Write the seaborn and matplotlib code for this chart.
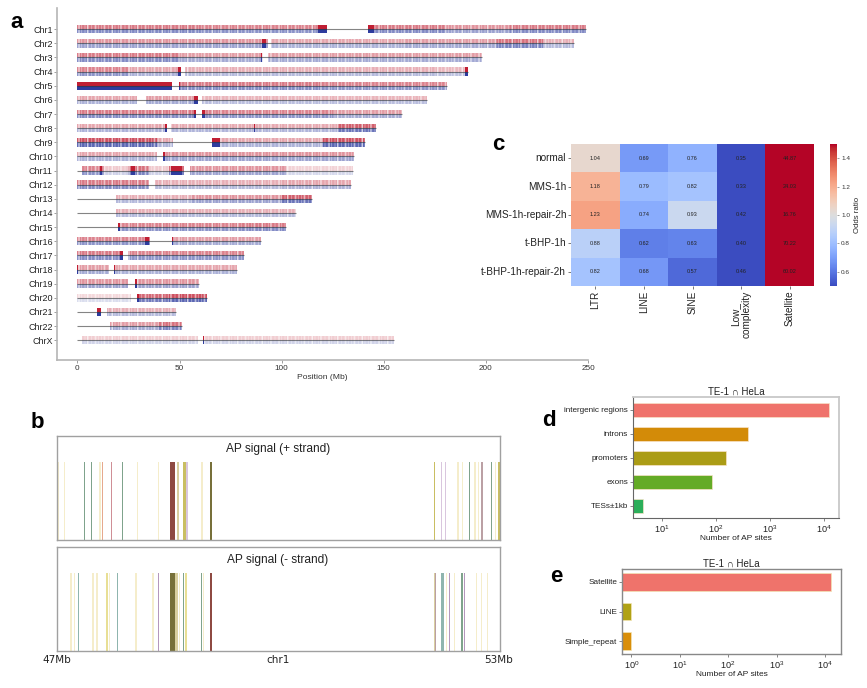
import numpy as np
import pandas as pd
import matplotlib
matplotlib.use("Agg")
import matplotlib.pyplot as plt
from matplotlib.colors import to_rgb
import seaborn as sns

# -------------------------------
# PANEL A DATA (Mb)
# -------------------------------
chr_names = ['Chr1', 'Chr2', 'Chr3', 'Chr4', 'Chr5', 'Chr6', 'Chr7', 'Chr8', 'Chr9', 'Chr10', 'Chr11', 'Chr12',
             'Chr13', 'Chr14', 'Chr15', 'Chr16', 'Chr17', 'Chr18', 'Chr19', 'Chr20', 'Chr21', 'Chr22', 'ChrX']
chr_lengths = [249, 243, 198, 191, 181, 171, 159, 146, 141, 135.5, 135, 134, 115, 107, 102, 90, 81.5, 78, 59.5, 63.5, 48.5, 51, 155]

# start, end, density
seg_chr1 = [(0, 60, .75), (60, 122, .7), (142.5, 180, .75), (180, 212, .6), (212, 249, .75)]
seg_chr2 = [(0, 93.5, .6), (95, 160, .5), (160, 205, .55), (205, 228, .8), (228, 243, .45)]
seg_chr3 = [(0, 50, .75), (50, 91, .55), (93.5, 198, .55)]
seg_chr4 = [(0, 25, .7), (25, 49.5, .5), (52.8, 175, .45), (175, 191, .4)]
seg_chr5 = [(0, 46.5, 1.0), (49.5, 120, .75), (120, 181, .7)]
seg_chr6 = [(0, 29, .5), (33.5, 58.5, .55), (61, 171, .42)]
seg_chr7 = [(0, 58, .75), (61, 125, .7), (125, 159, .55)]
seg_chr8 = [(0, 43.7, .5), (46, 127, .48), (127, 146, .9)]
seg_chr9 = [(0, 39, .98), (39, 47, .5), (66, 70, .9), (70, 120, .5), (120, 141, .98)]
seg_chr10 = [(0, 39, .5), (43, 135.5, .6)]
seg_chr11 = [(2, 13, .7), (13, 25, .3), (25, 35, .8), (35, 45, .3), (45, 52, .8), (55, 102, .6), (102, 135, .25)]
seg_chr12 = [(0, 35, .75), (38, 100, .45), (100, 134, .5)]
seg_chr13 = [(19, 56, .45), (56, 100, .6), (100, 115, .9)]
seg_chr14 = [(19, 80, .45), (80, 107, .45)]
seg_chr15 = [(20, 80, .7), (80, 102, .75)]
seg_chr16 = [(0, 35.5, .7), (46.5, 90, .55)]
seg_chr17 = [(0, 22.5, .75), (25, 81.5, .7)]
seg_chr18 = [(0, 15.5, .55), (18, 78, .5)]
seg_chr19 = [(0, 25, .6), (28, 59.5, .6)]
seg_chr20 = [(0, 26, .22), (29, 45, .85), (45, 63.5, .98)]
seg_chr21 = [(14.5, 48.5, .45)]
seg_chr22 = [(16, 40, .55), (40, 51, .8)]
seg_chrx = [(2, 59, .28), (62, 155, .28)]
chr_segments = [seg_chr1, seg_chr2, seg_chr3, seg_chr4, seg_chr5, seg_chr6, seg_chr7, seg_chr8, seg_chr9, seg_chr10,
                seg_chr11, seg_chr12, seg_chr13, seg_chr14, seg_chr15, seg_chr16, seg_chr17, seg_chr18, seg_chr19,
                seg_chr20, seg_chr21, seg_chr22, seg_chrx]

# strong peaks: start, end
hot_chr1 = [(118, 122), (142.5, 145.3)]
hot_chr2 = [(90.3, 92.5)]
hot_chr3 = [(90, 90.6)]
hot_chr4 = [(49.3, 50.5), (190, 191)]
hot_chr5 = [(49.5, 50)]
hot_chr6 = [(57, 59)]
hot_chr7 = [(57, 58), (61, 62.5)]
hot_chr8 = [(43, 44), (86.3, 87)]
hot_chr9 = [(66, 70)]
hot_chr10 = [(42, 43)]
hot_chr11 = [(11, 12), (26, 28), (46, 51)]
hot_chr12 = []
hot_chr13 = []
hot_chr14 = []
hot_chr15 = [(20, 21)]
hot_chr16 = [(33, 35), (46.5, 47)]
hot_chr17 = [(21, 22.5)]
hot_chr18 = [(0, .5), (18, 18.5)]
hot_chr19 = [(28, 29)]
hot_chr20 = [(29, 30)]
hot_chr21 = [(9.5, 11.5)]
hot_chr22 = []
hot_chrx = [(61.5, 62)]
chr_hot = [hot_chr1, hot_chr2, hot_chr3, hot_chr4, hot_chr5, hot_chr6, hot_chr7, hot_chr8, hot_chr9, hot_chr10,
           hot_chr11, hot_chr12, hot_chr13, hot_chr14, hot_chr15, hot_chr16, hot_chr17, hot_chr18, hot_chr19,
           hot_chr20, hot_chr21, hot_chr22, hot_chrx]

# -------------------------------
# PANEL B DATA (Mb)
# -------------------------------
ylt, ylw, olv, dol, grn, tea, lil, pur, sal, ros, bro, tan, mau = ('#F5EDCB', '#E8DF95', '#C9BE62', '#77703A', '#7FA38C',
    '#8FB5AE', '#D9C6DE', '#B597BC', '#E6A98D', '#CF8F96', '#8E4A42', '#D9CFA0', '#BBA0A4')
plus_pos = [47.014, 47.104, 47.375, 47.470, 47.578, 47.619, 47.740, 47.889, 48.093, 48.373, 48.562, 48.639, 48.725,
            48.761, 48.964, 49.081, 52.116, 52.206, 52.260, 52.432, 52.495, 52.590, 52.662, 52.712, 52.752, 52.888,
            52.937, 52.987]
plus_width = [.016, .016, .012, .012, .03, .012, .012, .012, .016, .016, .075, .04, .04, .018, .04, .03, .02, .012,
              .018, .016, .016, .012, .016, .016, .03, .012, .016, .016]
plus_color = [ylt, ylt, grn, grn, ylt, sal, ros, grn, ylt, ylt, bro, tan, olv, lil, ylt, dol, olv, lil, lil, ylt, ylt,
              grn, ylt, ylt, mau, grn, ylt, olv]
minus_pos = [47.190, 47.239, 47.293, 47.488, 47.542, 47.677, 47.713, 47.817, 48.070, 48.300, 48.377, 48.562, 48.616,
             48.657, 48.711, 48.747, 48.955, 48.987, 49.081, 52.107, 52.129, 52.219, 52.278, 52.319, 52.387, 52.490,
             52.522, 52.684, 52.752, 52.829]
minus_width = [.016, .016, .012, .016, .016, .016, .016, .016, .016, .016, .012, .07, .035, .02, .022, .04, .018,
               .016, .03, .012, .012, .04, .016, .012, .016, .025, .012, .016, .016, .016]
minus_color = [ylt, ylt, tea, ylt, ylt, ylw, ylt, tea, ylt, ylt, pur, dol, tan, ylt, grn, ylw, grn, ylt, bro, tan, mau,
               tea, ylt, pur, ylt, grn, pur, ylt, ylt, ylt]

# -------------------------------
# PANEL C DATA
# -------------------------------
conditions = ['normal', 'MMS-1h', 'MMS-1h-repair-2h', 't-BHP-1h', 't-BHP-1h-repair-2h']
repeat_classes = ['LTR', 'LINE', 'SINE', 'Low_\ncomplexity', 'Satellite']
ltr_odds = [1.04, 1.18, 1.23, 0.88, 0.82]
line_odds = [0.69, 0.79, 0.74, 0.62, 0.68]
sine_odds = [0.76, 0.82, 0.93, 0.63, 0.57]
low_odds = [0.35, 0.33, 0.42, 0.40, 0.46]
sat_odds = [44.87, 24.03, 16.76, 70.22, 60.02]

# -------------------------------
# PANEL D / E DATA
# -------------------------------
region_names = ['intergenic regions', 'introns', 'promoters', 'exons', 'TESs±1kb']
region_counts = [12400, 390, 150, 85, 4.5]
region_colors = ['#EF736B', '#D38B08', '#AB9C15', '#64AB26', '#2BAE5A']
repeat_names = ['Satellite', 'LINE', 'Simple_repeat']
repeat_counts = [13300, 1, 1]
repeat_colors = ['#EF736B', '#B0A215', '#D98E0A']

# -------------------------------
# FIGURE
# -------------------------------
sns.set_style('white')
plt.rcParams['font.family'] = ['Liberation Sans', 'DejaVu Sans']
plt.rcParams['mathtext.default'] = 'regular'
plt.rcParams['hatch.linewidth'] = 0.6

W, H = 867, 688
fig = plt.figure(figsize=(W / 100, H / 100), dpi=100)


def ax_px(left, top, right, bottom):
    return fig.add_axes([left / W, 1 - bottom / H, (right - left) / W, (bottom - top) / H])


def text_px(x, y, s, **kw):
    fig.text(x / W, 1 - y / H, s, ha=kw.pop('ha', 'center'), va=kw.pop('va', 'center'), **kw)


def blend(color, level):
    rgb = np.array(to_rgb(color))
    return tuple(1 - (1 - rgb) * min(level, 1))


# Panel a
RED, BLUE = '#C01F33', '#2E3C9E'
ax = ax_px(57, 8, 588, 360)
for i, name in enumerate(chr_names):
    ax.plot([0, chr_lengths[i]], [i, i], color='#333333', lw=0.8, alpha=0.6, solid_capstyle='butt', zorder=3)
    for col, bottom, h in [(RED, i - 0.3, 0.3), (BLUE, i, 0.3)]:
        for start, end, level in chr_segments[i]:
            if level >= 1:
                ax.bar(start, h, width=end - start, bottom=bottom, align='edge', color=col, lw=0, zorder=2)
                continue
            ax.bar(start, h, width=end - start, bottom=bottom, align='edge', color=blend(col, level * 0.8), lw=0, zorder=2)
            # light gaps of two pitches break the strip into ticks
            for hatch, k in [('|||||', .45), ('||', .15)]:
                ax.bar(start, h, width=end - start, bottom=bottom, align='edge', facecolor='none',
                       edgecolor=blend(col, level * k), hatch=hatch, lw=0, zorder=2.2)
        for start, end in chr_hot[i]:
            ax.bar(start, h, width=end - start, bottom=bottom, align='edge', color=col, lw=0, zorder=2.5)
ax.set_xlim(-10, 250)
ax.set_ylim(23.4, -1.5)
ax.set_yticks(range(len(chr_names)))
ax.set_yticklabels(chr_names, fontsize=6.5, color='#222222')
ax.set_xticks([0, 50, 100, 150, 200, 250])
ax.tick_params(axis='x', labelsize=5.9, length=2, width=.5, color='#777777', pad=1.5, labelcolor='#333333', bottom=True)
ax.tick_params(axis='y', length=2, width=.5, color='#777777', pad=1, left=True)
ax.set_xlabel('Position (Mb)', fontsize=6.1, color='#333333', labelpad=1.5)
sns.despine(ax=ax)
for s in ['left', 'bottom']:
    ax.spines[s].set_color('#B5B5B5')
    ax.spines[s].set_linewidth(1.2)

# Panel b
for top, bottom, pos, widths, cols, title in [(436, 540, plus_pos, plus_width, plus_color, 'AP signal (+ strand)'),
                                              (547, 651, minus_pos, minus_width, minus_color, 'AP signal (- strand)')]:
    ax = ax_px(57, top, 500, bottom)
    ax.bar(pos, 0.75, width=widths, color=cols, lw=0)
    ax.set_xlim(47, 53)
    ax.set_ylim(0, 1)
    ax.set_xticks([])
    ax.set_yticks([])
    for s in ax.spines.values():
        s.set_color('#A0A0A0')
        s.set_linewidth(1)
    text_px(278, top + 13, title, fontsize=8.6, color='#222222')
for x, s in [(57, '47Mb'), (278, 'chr1'), (499, '53Mb')]:
    text_px(x, 660, s, fontsize=7.5, family='DejaVu Sans', color='#222222')

# Panel c
odds = pd.DataFrame({'LTR': ltr_odds, 'LINE': line_odds, 'SINE': sine_odds, 'Low': low_odds, 'Satellite': sat_odds},
                    index=conditions)
ax = ax_px(571, 144, 814, 286)
cax = ax_px(830, 144, 837, 286)
sns.heatmap(odds, ax=ax, cbar_ax=cax, cmap='coolwarm', vmin=0.5, vmax=1.5, annot=True, fmt='.2f',
            annot_kws={'fontsize': 4, 'color': '#222222'}, xticklabels=repeat_classes, yticklabels=conditions,
            cbar_kws={'label': 'Odds ratio', 'ticks': [0.6, 0.8, 1.0, 1.2, 1.4]})
ax.tick_params(axis='x', labelsize=7.2, rotation=90, length=2, width=.5, pad=1.5, bottom=True, color='#444444')
ax.tick_params(axis='y', labelsize=7.2, rotation=0, length=2, width=.5, pad=1.5, left=True, color='#444444')
for lab in ax.get_xticklabels():
    lab.set_ha('center')
    lab.set_color('#222222')
for lab in ax.get_yticklabels():
    lab.set_color('#222222')
cax.tick_params(labelsize=4.6, length=1.5, width=.4, pad=1.5, right=True, color='#555555', labelcolor='#333333')
cax.yaxis.label.set_size(5.6)
cax.yaxis.labelpad = 3

# Panel d
bars = pd.DataFrame({'name': region_names, 'count': region_counts})
ax = ax_px(633, 397, 839, 518)
sns.barplot(data=bars, x='count', y='name', hue='name', palette=region_colors, width=0.62, ax=ax, saturation=1,
            legend=False, edgecolor='#F8E3C8', linewidth=.5)
ax.set_xscale('log')
ax.set_xlim(2.9, 19000)
ax.set_ylim(4.5, -0.54)
ax.set_title('TE-1 ∩ HeLa', fontsize=7, pad=1.5, color='#222222')
ax.set_ylabel('')
ax.set_xlabel('Number of AP sites', fontsize=6, labelpad=0, color='#222222')
ax.tick_params(axis='y', labelsize=5.9, length=2, width=.5, pad=1.5, left=True, color='#555555', labelcolor='#222222')
ax.tick_params(axis='x', which='major', labelsize=6.6, length=2, width=.5, pad=1.5, bottom=True, color='#555555', labelcolor='#222222')
ax.tick_params(axis='x', which='minor', length=1, width=.3, bottom=True, color='#777777')
for s, c, w in [('left', '#666666', .8), ('bottom', '#666666', .8), ('top', '#C8C8C8', 1.3), ('right', '#C8C8C8', 1.3)]:
    ax.spines[s].set_color(c)
    ax.spines[s].set_linewidth(w)

# Panel e
bars = pd.DataFrame({'name': repeat_names, 'count': repeat_counts})
ax = ax_px(622, 569, 841, 654)
sns.barplot(data=bars, x='count', y='name', hue='name', palette=repeat_colors, width=0.6, ax=ax, saturation=1,
            legend=False, edgecolor='#F3E5B5', linewidth=.5)
ax.set_xscale('log')
ax.set_xlim(0.64, 21400)
ax.set_ylim(2.44, -0.44)
ax.set_title('TE-1 ∩ HeLa', fontsize=7, pad=1.5, color='#222222')
ax.set_ylabel('')
ax.set_xlabel('Number of AP sites', fontsize=6, labelpad=0, color='#222222')
ax.tick_params(axis='y', labelsize=5.9, length=2, width=.5, pad=1.5, left=True, color='#555555', labelcolor='#222222')
ax.tick_params(axis='x', which='major', labelsize=6.6, length=2, width=.5, pad=1.5, bottom=True, color='#555555', labelcolor='#222222')
ax.tick_params(axis='x', which='minor', length=1, width=.3, bottom=True, color='#777777')
for s in ax.spines.values():
    s.set_color('#888888')
    s.set_linewidth(1)

# Panel letters
for x, y, s in [(17, 22, 'a'), (37, 423, 'b'), (498, 145, 'c'), (549, 420, 'd'), (556, 577, 'e')]:
    text_px(x, y, s, fontsize=16, fontweight='bold', color='black')

fig.savefig('out.png', dpi=100)
